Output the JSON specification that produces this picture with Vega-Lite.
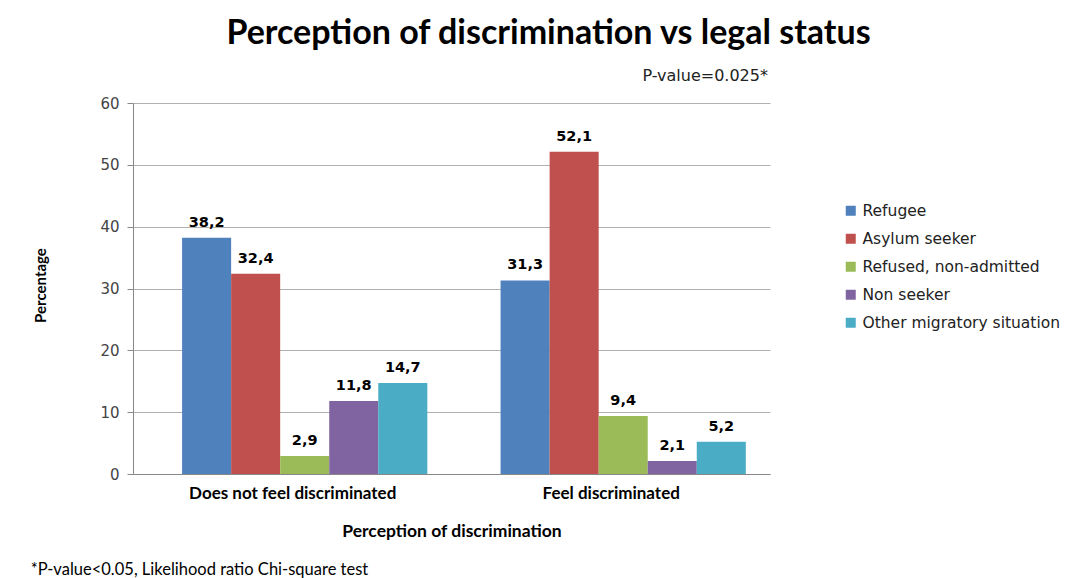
{
  "$schema": "https://vega.github.io/schema/vega-lite/v6.json",
  "width": 637,
  "height": 371,
  "autosize": "none",
  "padding": {"left": 133, "top": 103, "right": 302, "bottom": 104},
  "background": "white",
  "title": {
    "text": "Perception of discrimination vs legal status",
    "font": "Lato",
    "fontSize": 34,
    "fontWeight": "bold",
    "color": "black",
    "anchor": "middle",
    "frame": "group",
    "dx": 97,
    "offset": 17
  },
  "config": {
    "view": {"stroke": null},
    "axis": {"domainColor": "#888888", "tickColor": "#888888", "gridColor": "#b0b0b0"}
  },
  "resolve": {"axis": {"x": "independent", "y": "independent"}},
  "layer": [
    {
      "data": {
        "values": [
          {"perception": "Does not feel discriminated", "status": "Refugee", "value": 38.2, "label": "38,2"},
          {"perception": "Does not feel discriminated", "status": "Asylum seeker", "value": 32.4, "label": "32,4"},
          {"perception": "Does not feel discriminated", "status": "Refused, non-admitted", "value": 2.9, "label": "2,9"},
          {"perception": "Does not feel discriminated", "status": "Non seeker", "value": 11.8, "label": "11,8"},
          {"perception": "Does not feel discriminated", "status": "Other migratory situation", "value": 14.7, "label": "14,7"},
          {"perception": "Feel discriminated", "status": "Refugee", "value": 31.3, "label": "31,3"},
          {"perception": "Feel discriminated", "status": "Asylum seeker", "value": 52.1, "label": "52,1"},
          {"perception": "Feel discriminated", "status": "Refused, non-admitted", "value": 9.4, "label": "9,4"},
          {"perception": "Feel discriminated", "status": "Non seeker", "value": 2.1, "label": "2,1"},
          {"perception": "Feel discriminated", "status": "Other migratory situation", "value": 5.2, "label": "5,2"}
        ]
      },
      "encoding": {
        "x": {
          "field": "perception",
          "type": "nominal",
          "sort": ["Does not feel discriminated", "Feel discriminated"],
          "scale": {"paddingInner": 0.23, "paddingOuter": 0.115, "align": 0.67},
          "axis": {
            "title": "Perception of discrimination",
            "titleFont": "Lato",
            "titleFontSize": 17.5,
            "titleFontWeight": "bold",
            "titleColor": "black",
            "titlePadding": 21,
            "labelFont": "Lato",
            "labelFontSize": 17,
            "labelFontWeight": "bold",
            "labelColor": "black",
            "labelAngle": 0,
            "labelPadding": 11,
            "labelLimit": 400,
            "labelOffset": -12,
            "ticks": false
          }
        },
        "xOffset": {
          "field": "status",
          "type": "nominal",
          "sort": ["Refugee", "Asylum seeker", "Refused, non-admitted", "Non seeker", "Other migratory situation"]
        },
        "y": {
          "field": "value",
          "type": "quantitative",
          "scale": {"domain": [0, 60]},
          "axis": {
            "title": "Percentage",
            "titleFont": "Lato",
            "titleFontSize": 15,
            "titleFontWeight": "bold",
            "titleColor": "black",
            "titleX": -85,
            "titleY": 182,
            "titleAngle": -90,
            "titleAlign": "center",
            "labelFont": "DejaVu Sans",
            "labelFontSize": 15,
            "labelColor": "#444444",
            "labelPadding": 8,
            "labelOverlap": false,
            "values": [0, 10, 20, 30, 40, 50, 60],
            "grid": true,
            "tickSize": 6
          }
        },
        "color": {
          "field": "status",
          "type": "nominal",
          "sort": ["Refugee", "Asylum seeker", "Refused, non-admitted", "Non seeker", "Other migratory situation"],
          "scale": {
            "domain": ["Refugee", "Asylum seeker", "Refused, non-admitted", "Non seeker", "Other migratory situation"],
            "range": ["#4F81BD", "#C0504D", "#9BBB59", "#8064A2", "#4BACC6"]
          },
          "legend": {
            "title": null,
            "orient": "none",
            "legendX": 710,
            "legendY": 100,
            "symbolType": "square",
            "symbolSize": 100,
            "symbolStrokeWidth": 0,
            "labelFont": "DejaVu Sans",
            "labelFontSize": 15.5,
            "labelColor": "#222222",
            "labelLimit": 400,
            "labelOffset": 4,
            "rowPadding": 11
          }
        }
      },
      "layer": [
        {"mark": {"type": "bar"}},
        {
          "mark": {"type": "text", "baseline": "bottom", "dy": -8, "font": "DejaVu Sans", "fontWeight": "bold", "fontSize": 14.5, "color": "black"},
          "encoding": {"text": {"field": "label"}, "color": {"value": "black"}}
        }
      ]
    },
    {
      "data": {"values": [{"perception": "Feel discriminated", "y": 64.3, "t": "P-value=0.025*"}]},
      "mark": {"type": "text", "font": "DejaVu Sans", "fontSize": 16, "color": "#222222", "dx": 82, "baseline": "middle"},
      "encoding": {
        "x": {"field": "perception", "type": "nominal", "axis": null},
        "y": {"field": "y", "type": "quantitative", "axis": null},
        "text": {"field": "t"}
      }
    },
    {
      "data": {"values": [{"perception": "Does not feel discriminated", "y": -15.6, "t": "*P-value<0.05, Likelihood ratio Chi-square test"}]},
      "mark": {"type": "text", "font": "Lato", "fontSize": 16.5, "color": "black", "dx": -274, "align": "left", "baseline": "middle"},
      "encoding": {
        "x": {"field": "perception", "type": "nominal", "axis": null},
        "y": {"field": "y", "type": "quantitative", "axis": null},
        "text": {"field": "t"}
      }
    }
  ]
}
